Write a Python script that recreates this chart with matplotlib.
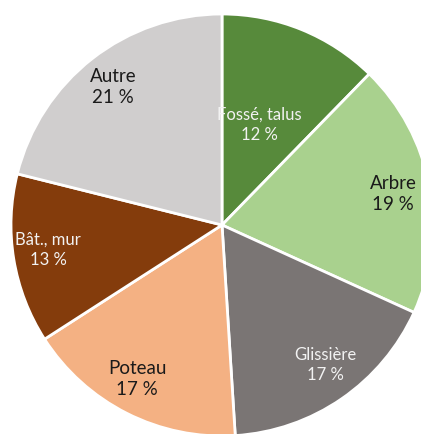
import matplotlib.pyplot as plt

# Répartition des obstacles heurtés
categories = ['Fossé, talus', 'Arbre', 'Glissière', 'Poteau', 'Bât., mur', 'Autre']
values = [12.3, 19.5, 17.2, 16.9, 13.0, 21.1]
pct_labels = ['12 %', '19 %', '17 %', '17 %', '13 %', '21 %']
colors = ['#578A3B', '#A9D18E', '#7A7574', '#F4B183', '#843C0C', '#D0CECE']
text_colors = ['#F2F2F2', '#1A1A1A', '#F2F2F2', '#1A1A1A', '#F2F2F2', '#1A1A1A']
font_sizes = [12, 13.5, 12, 13.5, 12, 13.5]
# position des étiquettes (pixels de l'image)
label_px = [(259, 125), (393, 194), (325, 365), (137, 379), (48, 250), (113, 87)]

W, H = 421, 434
cx, cy, R = 222, 225, 211

fig = plt.figure(figsize=(W / 100, H / 100), dpi=100)
ax = fig.add_axes([0, 0, 1, 1])
ax.pie(values, colors=colors, startangle=90, counterclock=False, radius=1,
       wedgeprops=dict(edgecolor='white', linewidth=2))
ax.set_xlim(-cx / R, (W - cx) / R)
ax.set_ylim(-(H - cy) / R, cy / R)
ax.set_aspect('equal')
ax.axis('off')

for name, pct, (px, py), tc, fs in zip(categories, pct_labels, label_px, text_colors, font_sizes):
    x = (px - cx) / R
    y = (cy - py) / R
    ax.text(x, y, f"{name}\n{pct}", ha='center', va='center', color=tc,
            fontsize=fs, family='Lato', linespacing=1.3)

fig.savefig('out.png', dpi=100)
